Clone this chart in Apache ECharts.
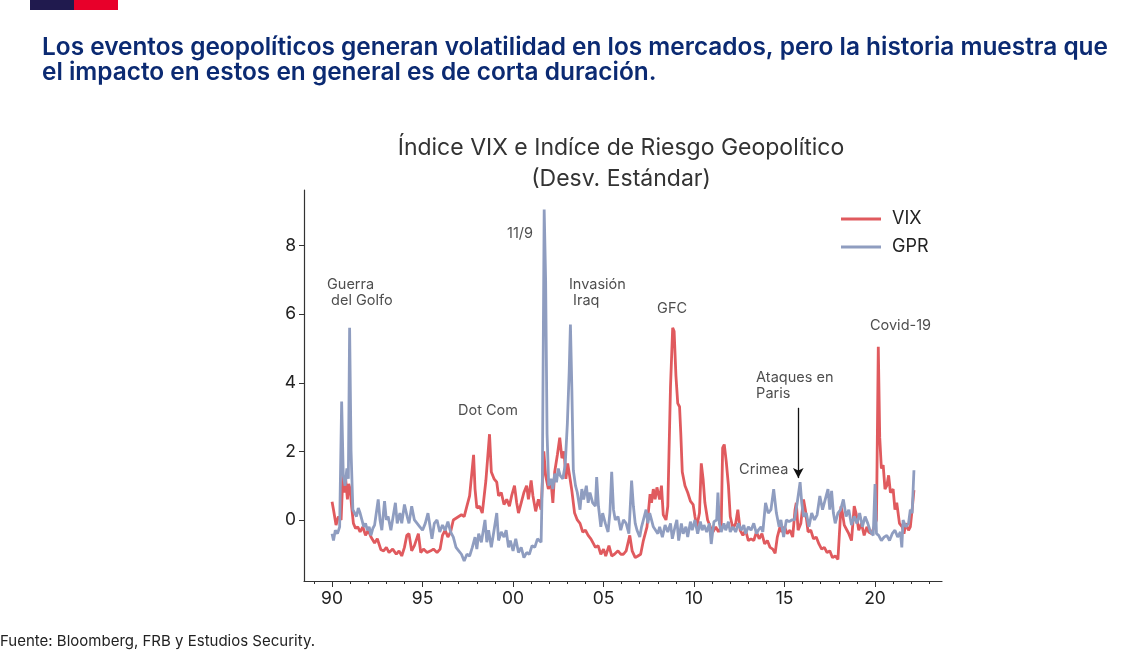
<!DOCTYPE html>
<html>
<head>
<meta charset="utf-8">
<script src="https://cdn.jsdelivr.net/npm/echarts@6/dist/echarts.min.js"></script>
<style>
html,body{margin:0;padding:0;background:#fff;}
#chart{width:1136px;height:657px;}
</style>
</head>
<body>
<div id="chart"></div>
<script>
// ---- Data (year, standardized value) ----
const vixData = [
[1990.00,0.53],[1990.08,0.3],[1990.15,0.25],[1990.22,-0.15],[1990.35,0.1],[1990.50,0.0],[1990.60,1.3],[1990.68,0.8],[1990.75,1.2],[1990.85,0.6],[1990.92,1.05],[1991.00,0.9],[1991.08,0.4],[1991.18,-0.1],[1991.30,-0.25],[1991.42,-0.2],[1991.55,-0.35],[1991.70,-0.2],[1991.85,-0.45],
[1992.00,-0.3],[1992.15,-0.5],[1992.35,-0.67],[1992.50,-0.55],[1992.70,-0.87],[1992.85,-0.9],[1993.00,-0.8],[1993.15,-0.95],[1993.35,-0.85],[1993.55,-1.0],[1993.70,-0.9],[1993.85,-1.05],[1994.00,-0.8],[1994.13,-0.45],[1994.25,-0.4],[1994.40,-0.9],[1994.55,-0.75],[1994.77,-0.4],[1994.90,-0.95],
[1995.05,-0.85],[1995.25,-0.95],[1995.45,-0.9],[1995.60,-0.85],[1995.80,-0.95],[1995.97,-0.85],[1996.10,-0.45],[1996.25,-0.3],[1996.40,-0.5],[1996.55,-0.35],[1996.70,0.0],[1996.85,0.05],[1997.00,0.1],[1997.15,0.15],[1997.30,0.1],[1997.45,0.4],[1997.60,0.7],[1997.82,1.9],[1997.90,0.9],
[1998.00,0.35],[1998.15,0.4],[1998.30,0.2],[1998.50,1.15],[1998.70,2.5],[1998.80,1.4],[1998.95,1.2],[1999.10,1.1],[1999.20,0.7],[1999.35,0.8],[1999.50,0.45],[1999.65,0.6],[1999.80,0.4],[1999.92,0.7],
[2000.08,1.0],[2000.20,0.5],[2000.30,0.2],[2000.45,0.5],[2000.60,0.8],[2000.75,1.0],[2000.85,0.6],[2001.00,1.15],[2001.10,0.7],[2001.25,0.25],[2001.40,0.6],[2001.55,0.3],[2001.70,2.0],[2001.80,1.3],[2001.95,0.9],
[2002.10,1.1],[2002.20,0.5],[2002.30,1.4],[2002.45,1.9],[2002.58,2.4],[2002.70,1.8],[2002.82,2.0],[2002.92,1.2],[2003.02,1.65],[2003.15,1.2],[2003.25,0.85],[2003.40,0.2],[2003.55,0.0],[2003.70,-0.1],[2003.85,-0.35],
[2004.00,-0.3],[2004.15,-0.45],[2004.30,-0.55],[2004.45,-0.7],[2004.55,-0.8],[2004.70,-0.75],[2004.85,-1.0],[2005.00,-0.85],[2005.12,-1.05],[2005.30,-0.75],[2005.45,-1.05],[2005.60,-1.0],[2005.80,-0.9],[2005.95,-1.0],
[2006.10,-1.0],[2006.25,-0.9],[2006.45,-0.45],[2006.58,-0.9],[2006.75,-1.1],[2006.90,-1.05],[2007.05,-1.0],[2007.20,-0.6],[2007.40,-0.2],[2007.57,0.75],[2007.65,0.5],[2007.75,0.9],[2007.85,0.6],[2007.95,0.95],
[2008.10,0.6],[2008.20,1.0],[2008.30,0.15],[2008.45,0.0],[2008.55,0.4],[2008.70,3.9],[2008.82,5.6],[2008.90,5.5],[2009.00,4.2],[2009.10,3.4],[2009.20,3.3],[2009.27,2.5],[2009.35,1.4],[2009.50,1.0],[2009.65,0.8],[2009.80,0.55],[2009.95,0.45],
[2010.05,0.1],[2010.15,-0.2],[2010.30,0.2],[2010.40,1.65],[2010.50,1.2],[2010.60,0.5],[2010.75,0.0],[2010.90,-0.2],[2011.05,-0.35],[2011.20,-0.2],[2011.35,-0.35],[2011.50,-0.2],[2011.58,2.1],[2011.67,2.2],[2011.78,1.7],[2011.90,1.0],
[2012.00,0.1],[2012.15,-0.25],[2012.30,-0.1],[2012.42,0.3],[2012.55,-0.3],[2012.70,-0.45],[2012.85,-0.3],[2013.00,-0.6],[2013.15,-0.55],[2013.30,-0.6],[2013.45,-0.35],[2013.60,-0.55],[2013.75,-0.4],[2013.90,-0.7],
[2014.05,-0.6],[2014.20,-0.8],[2014.35,-0.85],[2014.48,-0.97],[2014.60,-0.5],[2014.75,-0.2],[2014.85,-0.35],[2015.00,-0.2],[2015.15,-0.4],[2015.30,-0.3],[2015.45,-0.5],[2015.58,0.3],[2015.65,0.5],[2015.75,-0.3],[2015.90,-0.1],
[2016.05,0.6],[2016.15,0.3],[2016.30,-0.35],[2016.45,-0.3],[2016.60,-0.55],[2016.75,-0.5],[2016.90,-0.7],[2017.05,-0.85],[2017.20,-0.8],[2017.35,-0.95],[2017.50,-0.9],[2017.65,-1.1],[2017.80,-1.05],[2017.95,-1.15],
[2018.05,-1.1],[2018.12,0.4],[2018.20,0.2],[2018.30,-0.15],[2018.45,-0.3],[2018.55,-0.4],[2018.70,-0.6],[2018.85,0.4],[2018.95,0.2],[2019.10,-0.3],[2019.25,-0.1],[2019.40,-0.45],[2019.55,-0.2],[2019.65,-0.35],[2019.80,-0.4],[2019.95,-0.2],
[2020.08,0.0],[2020.18,5.05],[2020.26,2.4],[2020.35,1.5],[2020.45,1.6],[2020.55,0.9],[2020.65,1.0],[2020.75,1.3],[2020.85,0.8],[2021.00,0.9],[2021.10,0.3],[2021.20,0.5],[2021.35,-0.1],[2021.50,-0.2],[2021.60,-0.4],[2021.70,-0.1],[2021.85,-0.3],[2021.95,-0.2],[2022.05,0.3],[2022.15,0.87]
];
const gprData = [
[1990.00,-0.4],[1990.08,-0.6],[1990.18,-0.3],[1990.30,-0.4],[1990.42,-0.2],[1990.53,3.45],[1990.62,1.3],[1990.72,1.0],[1990.82,1.5],[1990.90,1.2],[1990.97,5.6],[1991.05,2.0],[1991.15,0.3],[1991.25,0.35],[1991.35,0.1],[1991.45,0.35],[1991.55,0.2],[1991.65,0.0],[1991.75,-0.2],[1991.85,-0.1],[1991.95,-0.3],
[1992.05,-0.2],[1992.15,-0.45],[1992.25,-0.25],[1992.35,-0.15],[1992.55,0.6],[1992.65,0.0],[1992.75,-0.3],[1992.90,0.55],[1993.00,0.0],[1993.10,0.1],[1993.25,-0.3],[1993.50,0.5],[1993.60,-0.1],[1993.75,0.2],[1993.85,-0.1],
[1994.00,0.45],[1994.15,0.1],[1994.25,-0.1],[1994.40,0.4],[1994.55,0.0],[1994.70,-0.1],[1994.85,-0.2],[1995.00,-0.3],[1995.15,-0.1],[1995.30,0.2],[1995.40,0.25],[1995.52,-0.55],[1995.65,-0.1],[1995.80,0.0],[1995.95,-0.35],
[1996.10,-0.15],[1996.25,-0.3],[1996.40,-0.05],[1996.55,-0.35],[1996.70,-0.5],[1996.85,-0.8],[1997.00,-0.9],[1997.15,-1.0],[1997.30,-1.2],[1997.45,-1.0],[1997.60,-1.05],[1997.75,-0.8],[1997.90,-0.5],
[1998.00,-0.85],[1998.10,-0.4],[1998.25,-0.65],[1998.45,0.0],[1998.55,-0.65],[1998.65,-0.3],[1998.80,-0.8],[1998.95,-0.3],[1999.10,0.2],[1999.20,-0.6],[1999.35,-0.35],[1999.50,-0.5],[1999.62,-0.3],[1999.75,-0.8],[1999.85,-0.6],
[2000.00,-0.9],[2000.15,-0.55],[2000.30,-0.95],[2000.45,-0.8],[2000.60,-1.1],[2000.75,-0.95],[2000.90,-1.0],[2001.05,-0.75],[2001.20,-0.8],[2001.35,-0.55],[2001.55,-0.65],[2001.62,1.2],[2001.72,9.05],[2001.80,7.0],[2001.88,2.5],[2001.97,1.0],
[2002.10,1.2],[2002.20,0.9],[2002.30,1.35],[2002.40,1.1],[2002.50,1.5],[2002.60,1.3],[2002.75,1.2],[2002.88,1.6],[2003.00,2.8],[2003.10,4.3],[2003.17,5.7],[2003.25,3.8],[2003.33,1.45],[2003.45,1.0],[2003.55,0.8],[2003.70,0.3],[2003.80,0.9],[2003.90,0.6],
[2004.05,1.0],[2004.15,0.5],[2004.25,0.8],[2004.40,0.5],[2004.55,0.4],[2004.62,1.25],[2004.72,0.4],[2004.85,-0.2],[2004.95,0.2],[2005.10,-0.1],[2005.25,-0.35],[2005.35,0.2],[2005.45,1.4],[2005.55,0.3],[2005.65,0.0],[2005.80,0.1],[2005.95,-0.3],
[2006.10,0.0],[2006.25,-0.1],[2006.40,-0.4],[2006.55,1.15],[2006.65,0.4],[2006.75,-0.1],[2006.85,-0.3],[2007.00,-0.5],[2007.10,-0.2],[2007.25,0.1],[2007.35,0.3],[2007.45,-0.1],[2007.55,0.2],[2007.65,0.0],[2007.75,-0.2],[2007.85,-0.15],
[2008.00,-0.4],[2008.10,-0.2],[2008.25,-0.5],[2008.40,-0.15],[2008.55,-0.35],[2008.70,-0.1],[2008.80,-0.55],[2008.95,-0.2],[2009.05,0.0],[2009.15,-0.6],[2009.30,-0.1],[2009.40,-0.4],[2009.55,-0.2],[2009.65,-0.5],[2009.80,-0.05],[2009.90,-0.3],
[2010.05,0.0],[2010.20,-0.4],[2010.35,-0.05],[2010.45,-0.3],[2010.55,-0.15],[2010.70,-0.35],[2010.85,-0.1],[2010.95,-0.7],[2011.10,-0.05],[2011.25,0.0],[2011.32,0.8],[2011.40,-0.1],[2011.50,-0.35],[2011.65,-0.1],[2011.75,-0.3],[2011.90,-0.05],
[2012.00,-0.35],[2012.15,-0.2],[2012.30,-0.35],[2012.45,-0.1],[2012.60,-0.3],[2012.75,-0.15],[2012.85,-0.4],[2013.00,-0.2],[2013.15,-0.3],[2013.30,-0.1],[2013.45,-0.4],[2013.55,-0.3],[2013.70,-0.2],[2013.80,-0.35],[2013.95,0.5],
[2014.10,0.2],[2014.25,0.3],[2014.40,0.9],[2014.55,0.2],[2014.70,-0.2],[2014.80,0.0],[2014.95,-0.5],[2015.10,0.0],[2015.25,-0.05],[2015.40,0.0],[2015.55,0.0],[2015.70,0.5],[2015.86,1.1],[2015.95,0.5],
[2016.05,0.1],[2016.20,0.2],[2016.35,-0.2],[2016.50,0.2],[2016.65,0.0],[2016.80,0.15],[2016.95,0.7],[2017.10,0.3],[2017.25,0.6],[2017.40,0.9],[2017.50,0.3],[2017.60,0.85],[2017.70,0.2],[2017.80,-0.1],[2017.95,0.2],
[2018.10,0.3],[2018.25,0.6],[2018.40,0.1],[2018.55,0.3],[2018.70,-0.15],[2018.85,0.1],[2019.00,-0.1],[2019.15,0.2],[2019.30,-0.2],[2019.45,0.1],[2019.60,-0.1],[2019.75,-0.35],[2019.90,-0.45],
[2020.00,1.05],[2020.08,-0.4],[2020.20,-0.45],[2020.35,-0.6],[2020.50,-0.5],[2020.65,-0.45],[2020.80,-0.6],[2020.95,-0.4],[2021.10,-0.3],[2021.25,-0.5],[2021.40,-0.35],[2021.48,-0.8],[2021.55,0.0],[2021.70,-0.2],[2021.85,-0.1],[2021.95,0.3],[2022.05,0.2],[2022.15,1.45]
];
const xLabelYears = [1990, 1995, 2000, 2005, 2010, 2015, 2020];
const xMinorYears = [1989,1990,1991,1992,1993,1994,1995,1996,1997,1998,1999,2000,2001,2002,2003,2004,2005,2006,2007,2008,2009,2010,2011,2012,2013,2014,2015,2016,2017,2018,2019,2020,2021,2022,2023];
const yLabelValues = [0, 2, 4, 6, 8];
const seriesNames = ['VIX', 'GPR'];
// annotation anchors: left edge (year) and vertical centre (value)
const annotations = [
  {text: 'Guerra\n del Golfo', x: 1989.72, y: 6.62},
  {text: '11/9', x: 1999.67, y: 8.34},
  {text: 'Invasión\n Iraq', x: 2003.09, y: 6.62},
  {text: 'GFC', x: 2007.96, y: 6.15},
  {text: 'Dot Com', x: 1996.96, y: 3.18},
  {text: 'Ataques en\nParis', x: 2013.43, y: 3.91},
  {text: 'Crimea', x: 2012.49, y: 1.46},
  {text: 'Covid-19', x: 2019.72, y: 5.66}
];
const arrowLine = [[2015.76, 3.27], [2015.76, 1.22]];

const FONT = 'Inter, "Noto Sans", sans-serif';
const chart = echarts.init(document.getElementById('chart'), null, {renderer: 'canvas'});

const X_MIN = 1988.45, X_MAX = 2023.7, Y_MIN = -1.78, Y_MAX = 9.62;

const option = {
  backgroundColor: '#ffffff',
  animation: false,
  title: {
    text: 'Índice VIX e Indíce de Riesgo Geopolítico\n(Desv. Estándar)',
    left: 616, top: 128, textAlign: 'center',
    textStyle: {fontFamily: FONT, fontSize: 23, fontWeight: 400, color: '#333333', lineHeight: 31}
  },
  legend: {
    data: seriesNames,
    orient: 'vertical',
    left: 836, top: 205,
    itemWidth: 40, itemHeight: 3, itemGap: 10,
    icon: 'rect',
    textStyle: {fontFamily: FONT, fontSize: 18, color: '#222', padding: [0,0,0,6]}
  },
  grid: {left: 304, right: 194, top: 190, bottom: 76, containLabel: false},
  xAxis: [{
    type: 'value', min: X_MIN, max: X_MAX,
    axisLine: {show: true, onZero: false, lineStyle: {color: '#333', width: 1.2}},
    axisTick: {show: true, length: 6, customValues: xLabelYears, lineStyle: {color: '#333'}},
    axisLabel: {customValues: xLabelYears, margin: 9, fontFamily: FONT, fontSize: 17.5, color: '#222',
      formatter: function(v){ return String(Math.round(v) % 100).padStart(2, '0'); }},
    splitLine: {show: false}
  }, {
    type: 'value', min: X_MIN, max: X_MAX, position: 'bottom',
    axisLine: {show: false, onZero: false},
    axisTick: {show: true, length: 3, customValues: xMinorYears, lineStyle: {color: '#333'}},
    axisLabel: {show: false},
    splitLine: {show: false}
  }],
  yAxis: {
    type: 'value', min: Y_MIN, max: Y_MAX,
    axisLine: {show: true, onZero: false, lineStyle: {color: '#333', width: 1.2}},
    axisTick: {show: true, length: 5, customValues: yLabelValues, lineStyle: {color: '#333'}},
    axisLabel: {customValues: yLabelValues, margin: 8, fontFamily: FONT, fontSize: 17.5, color: '#222'},
    splitLine: {show: false}
  },
  series: [{
    name: 'VIX', type: 'line', data: vixData, showSymbol: false, symbol: 'none',
    lineStyle: {color: '#e05a5e', width: 2.8}, itemStyle: {color: '#e05a5e'}, z: 2
  }, {
    name: 'GPR', type: 'line', data: gprData, showSymbol: false, symbol: 'none',
    lineStyle: {color: '#8f9dc0', width: 2.8}, itemStyle: {color: '#8f9dc0'}, z: 3,
    markLine: {
      silent: true, symbol: ['none', 'arrow'], symbolSize: [8, 10],
      lineStyle: {color: '#111', width: 1.3, type: 'solid'},
      label: {show: false},
      data: [[{coord: arrowLine[0]}, {coord: arrowLine[1]}]]
    }
  }, {
    name: 'annot', type: 'scatter', symbolSize: 0, silent: true,
    data: annotations.map(a => ({value: [a.x, a.y], label: {formatter: a.text}})),
    label: {show: true, position: 'inside', fontFamily: FONT, fontSize: 14.5, color: '#222', lineHeight: 16, align: 'left', verticalAlign: 'middle'},
    z: 5
  }],
  graphic: [
    {type: 'rect', left: 30, top: 0, shape: {width: 44, height: 10}, style: {fill: '#201a4e'}},
    {type: 'rect', left: 74, top: 0, shape: {width: 44, height: 10}, style: {fill: '#e8002a'}},
    {type: 'text', left: 42, top: 35, style: {
      text: 'Los eventos geopolíticos generan volatilidad en los mercados, pero la historia muestra que\nel impacto en estos en general es de corta duración.',
      font: '600 24.4px Inter, "Noto Sans", sans-serif', fill: '#0b2a72', lineHeight: 25}},
    {type: 'text', left: 0, top: 634, style: {
      text: 'Fuente: Bloomberg, FRB y Estudios Security.',
      font: '400 15px Inter, "Noto Sans", sans-serif', fill: '#222'}}
  ]
};
chart.setOption(option);
</script>
</body>
</html>
